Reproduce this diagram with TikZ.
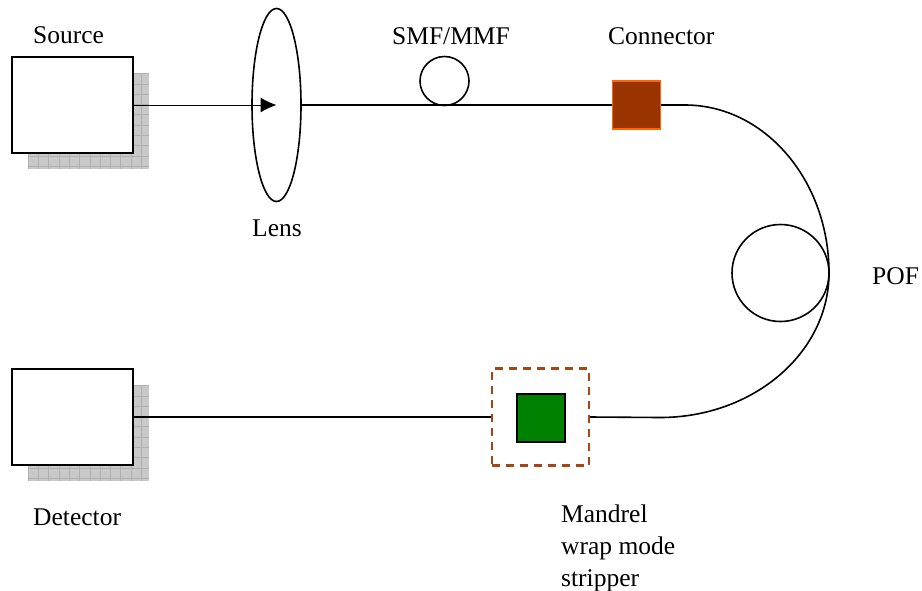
\documentclass[tikz,border=0pt]{standalone}
\usepackage{fontspec}
\setmainfont{Liberation Serif}
\usetikzlibrary{arrows.meta,shapes.geometric}
\definecolor{rust}{HTML}{993300}
\definecolor{flame}{HTML}{FF6600}
\definecolor{leaf}{HTML}{008000}
\tikzset{
	unitbox/.style={draw=black,line width=1.8pt,fill=white,inner sep=0pt,minimum width=121pt,minimum height=96pt},
	fiber/.style={draw=black,line width=1.6pt},
	loopfiber/.style={circle,draw=black,line width=1.6pt,inner sep=0pt},
	caption/.style={anchor=base west,inner sep=0pt,font=\fontsize{25.5}{25.5}\selectfont}
}
\begin{document}
\begin{tikzpicture}[line cap=butt,line join=miter,x=1pt,y=-1pt]
		\useasboundingbox (0,0) rectangle (922,590);
		%Shadows
		\foreach \y in {73,385}{
			\fill[gray!42] (28,\y) rectangle (149,\y+96);
			\foreach \i in {0,...,11}
			\draw[gray!62,line width=.6pt] (28+10.3*\i,\y)--(28+10.3*\i,\y+96);
			\foreach \j in {0,...,9}
			\draw[gray!62,line width=.6pt] (28,\y+.5+10.3*\j)--(149,\y+.5+10.3*\j);
		}
		%Units
		\node[unitbox] (source) at (72.5,105){};
		\node[unitbox] (detector) at (72.5,417){};
		\node[ellipse,draw=black,line width=1.6pt,inner sep=0pt,minimum width=49pt,minimum height=193pt] (lens) at (276.5,105){};
		\coordinate (lensmid) at (276.5,105);
		\node[loopfiber,minimum size=49pt] (smfloop) at (444.5,81){};
		\node[draw=flame,line width=1.6pt,fill=rust,inner sep=0pt,minimum size=48pt] (connector) at (636.5,105){};
		\node[draw=rust!90!white,line width=2.2pt,dash pattern=on 8pt off 6pt,inner sep=0pt,minimum size=97pt] (stripperzone) at (540.5,417){};
		\node[draw=black,line width=2pt,fill=leaf,inner sep=0pt,minimum size=48pt] (stripper) at (540.5,417.5){};
		\node[loopfiber,minimum size=97pt] (pofloop) at (780.5,273){};
		\coordinate (poftop) at (685,105);
		%Fibers
		\draw[line width=1pt,-{Latex[length=16pt,width=15pt]}] (source.east)--(lensmid);
		\draw[fiber] (lens.east)--(connector.west);
		\draw[fiber] (connector.east)--(poftop);
		\draw[fiber] (poftop) arc[start angle=90,end angle=0,x radius=144,y radius=-168]
			arc[start angle=0,end angle=-90,x radius=169,y radius=-144.5]--(stripperzone.east);
		\draw[fiber] (detector.east)--(stripperzone.west);
		%Labels
		\node[caption] (sourcelabel) at (33,43){Source};
		\node[caption] (lenslabel) at (252,236){Lens};
		\node[caption] (smflabel) at (392,44){SMF/MMF};
		\node[caption] (connectorlabel) at (608,44){Connector};
		\node[caption] (poflabel) at (872,284){POF};
		\node[caption] (detectorlabel) at (33,525){Detector};
		\node[caption] (mandrellabel) at (561,522){Mandrel};
		\node[caption] (wraplabel) at (561,554){wrap mode};
		\node[caption] (stripperlabel) at (561,586){stripper};
	\end{tikzpicture}
\end{document}
